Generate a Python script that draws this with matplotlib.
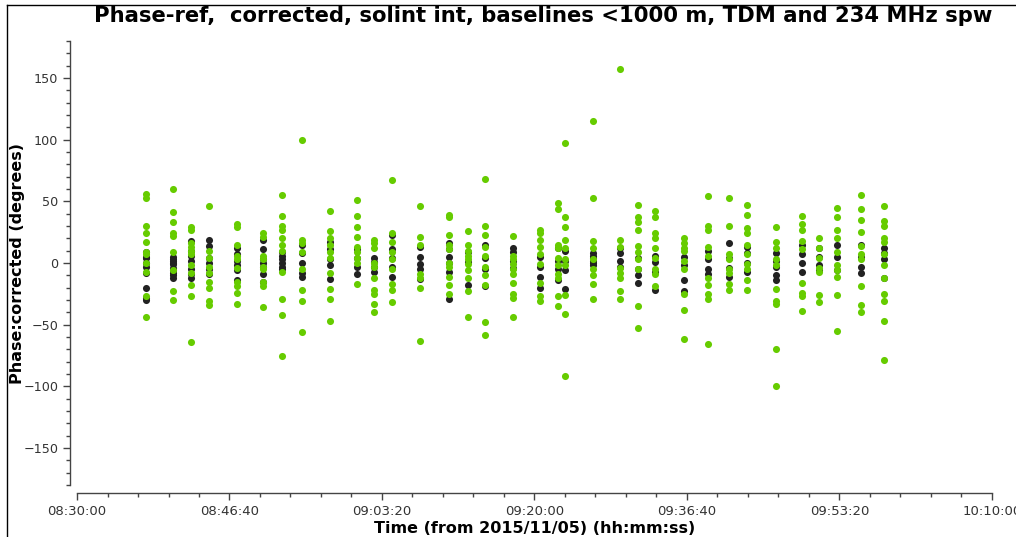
import matplotlib
matplotlib.use("Agg")
import matplotlib.pyplot as plt
from matplotlib.lines import Line2D
from matplotlib.ticker import MultipleLocator, FuncFormatter

# seconds since 08:30:00 for each integration column
scan_times = [452, 630, 748, 866, 1049, 1220, 1344, 1475, 1659, 1836, 1948, 2066,
              2249, 2439, 2564, 2675, 2859, 3036, 3154, 3200, 3384, 3561, 3679, 3790,
              3980, 4138, 4275, 4393, 4584, 4754, 4866, 4984, 5141, 5292]

# narrow-band (black) phases, degrees
black_phase = [
    [9, 5, 4, 0, -3, -8, -20, -28, -30],
    [5, 3, 2, 0, -1, -4, -6, -8, -10, -12],
    [18, 10, 6, 2, -5, -9, -12],
    [19, 14, 4, 0, -5, -9],
    [12, 7, 2, -2, -6, -14],
    [19, 11, 3, 0, -3, -9, -15],
    [9, 6, 3, 0, -3, -5],
    [15, 8, 0, -8, -11],
    [17, 11, 3, -2, -13],
    [11, 4, -3, -9],
    [4, 1, -3, -7],
    [23, 11, 4, -3, -11],
    [13, 5, -1, -5, -13],
    [16, 11, 5, 0, -7, -29],
    [9, 1, -18],
    [15, 4, -5, -19],
    [12, 9, 2, -4],
    [5, -3, -11, -20],
    [12, 2, -5, -14],
    [10, 2, -6, -21],
    [8, 6, 4, 2, 0, -2],
    [12, 8, 2, -3],
    [4, -5, -10, -16],
    [6, 1, -7, -22],
    [5, -2, -14, -23],
    [10, 3, -5, -9],
    [16, 4, -4, -11],
    [13, 8, 0, -7],
    [8, 2, -3, -10, -14],
    [15, 7, 0, -7],
    [12, 5, -2, -6],
    [15, 5, -6],
    [15, 5, -3, -8],
    [12, 8, 3, -12],
]

# wide-band (green) phases, degrees
green_phase = [
    [56, 53, 30, 24, 17, 9, 7, 0, -7, -27, -44],
    [60, 41, 33, 24, 22, 9, -6, -23, -30],
    [29, 27, 16, 13, 10, 7, -2, -8, -18, -27, -64],
    [46, 10, 4, -3, -8, -15, -20, -31, -34],
    [32, 29, 15, 6, 3, -4, -15, -19, -24, -33],
    [24, 21, 6, 3, -3, -5, -15, -19, -36],
    [55, 38, 30, 27, 20, 15, 10, -7, -29, -42, -75],
    [100, 19, 16, 9, -5, -22, -31, -56],
    [42, 26, 20, 15, 9, 4, -8, -21, -29, -47],
    [51, 38, 29, 21, 13, 9, 4, 0, -17],
    [19, 16, 12, 0, -3, -12, -22, -25, -33, -40],
    [67, 24, 17, 9, 3, -5, -17, -22, -32],
    [46, 21, 15, -9, -12, -20, -63],
    [39, 37, 23, 15, 11, 0, -3, -11, -18, -25],
    [26, 15, 10, 6, 3, -1, -6, -12, -23, -44],
    [68, 30, 23, 13, 6, -3, -10, -18, -48, -58],
    [22, 6, 3, -1, -5, -9, -16, -25, -28, -44],
    [27, 24, 19, 13, 7, -1, -16, -27, -31],
    [49, 44, 15, 12, 4, -2, -9, -12, -27, -35],
    [97, 37, 29, 19, 12, 3, -2, -26, -41, -92],
    [115, 53, 18, 12, 3, -5, -10, -17, -29],
    [157, 19, 13, -4, -8, -12, -23, -29],
    [47, 37, 33, 27, 14, 9, 3, -5, -35, -53],
    [42, 37, 24, 20, 12, 4, -5, -9, -19],
    [20, 16, 12, 10, 2, -5, -25, -38, -62],
    [54, 30, 27, 13, 6, -12, -18, -25, -29, -66],
    [53, 30, 7, 3, -5, -8, -17, -22],
    [47, 39, 28, 24, 15, 7, -1, -5, -14, -22],
    [29, 17, 12, 3, -2, -21, -31, -33, -70, -100],
    [38, 32, 27, 18, 11, -16, -24, -27, -39],
    [20, 12, 4, -4, -7, -26, -32],
    [45, 37, 27, 20, 9, -2, -6, -11, -26, -55],
    [55, 44, 35, 25, 14, 7, 3, -19, -34, -40],
    [46, 34, 30, 20, 17, 7, -2, -12, -25, -31, -47, -79],
]


def hms(sec, pos):
    t = 8 * 3600 + 30 * 60 + int(round(sec))
    return "%02d:%02d:%02d" % (t // 3600, (t % 3600) // 60, t % 60)


fig = plt.figure(figsize=(10.16, 5.37), dpi=100)
ax = fig.add_axes([77 / 1016, 52 / 537, 915 / 1016, 444 / 537])

for t, vals in zip(scan_times, black_phase):
    ax.scatter([t] * len(vals), vals, s=26, color="#222222", linewidths=0, zorder=2)
for t, vals in zip(scan_times, green_phase):
    ax.scatter([t] * len(vals), vals, s=26, color="#66cc00", linewidths=0, zorder=3)

ax.set_xlim(0, 6000)
ax.set_ylim(-180, 180)
ax.xaxis.set_major_locator(MultipleLocator(1000))
ax.xaxis.set_minor_locator(MultipleLocator(200))
ax.xaxis.set_major_formatter(FuncFormatter(hms))
ax.yaxis.set_major_locator(MultipleLocator(50))
ax.yaxis.set_minor_locator(MultipleLocator(10))

for s in ["top", "right"]:
    ax.spines[s].set_visible(False)
ax.spines["left"].set_position(("outward", 5))
ax.spines["bottom"].set_position(("outward", 6))
for s in ["left", "bottom"]:
    ax.spines[s].set_color("#444444")
    ax.spines[s].set_linewidth(1.0)

ax.tick_params(which="major", direction="out", length=5, width=1, color="#444444",
               labelsize=9.5, labelcolor="#333333")
ax.tick_params(axis="y", which="major", labelsize=9.2)
ax.tick_params(which="minor", direction="out", length=2.7, width=1, color="#444444")

ax.set_xlabel("Time (from 2015/11/05) (hh:mm:ss)", fontsize=11.5, fontweight="bold", labelpad=2)
ax.set_ylabel("Phase:corrected (degrees)", fontsize=11.5, fontweight="bold")
ax.yaxis.set_label_coords(-0.057, 0.5)

fig.text(543 / 1016, 1 - 16 / 537, "Phase-ref,  corrected, solint int, baselines <1000 m, TDM and 234 MHz spw",
         ha="center", va="center", fontsize=15.2, fontweight="bold")

# plot frame edges (left and top)
fig.add_artist(Line2D([7 / 1016, 7 / 1016], [0, 1 - 5 / 537], transform=fig.transFigure,
                      color="black", linewidth=1))
fig.add_artist(Line2D([7 / 1016, 1], [1 - 5 / 537, 1 - 5 / 537], transform=fig.transFigure,
                      color="black", linewidth=1))

fig.savefig("out.png", dpi=100)
